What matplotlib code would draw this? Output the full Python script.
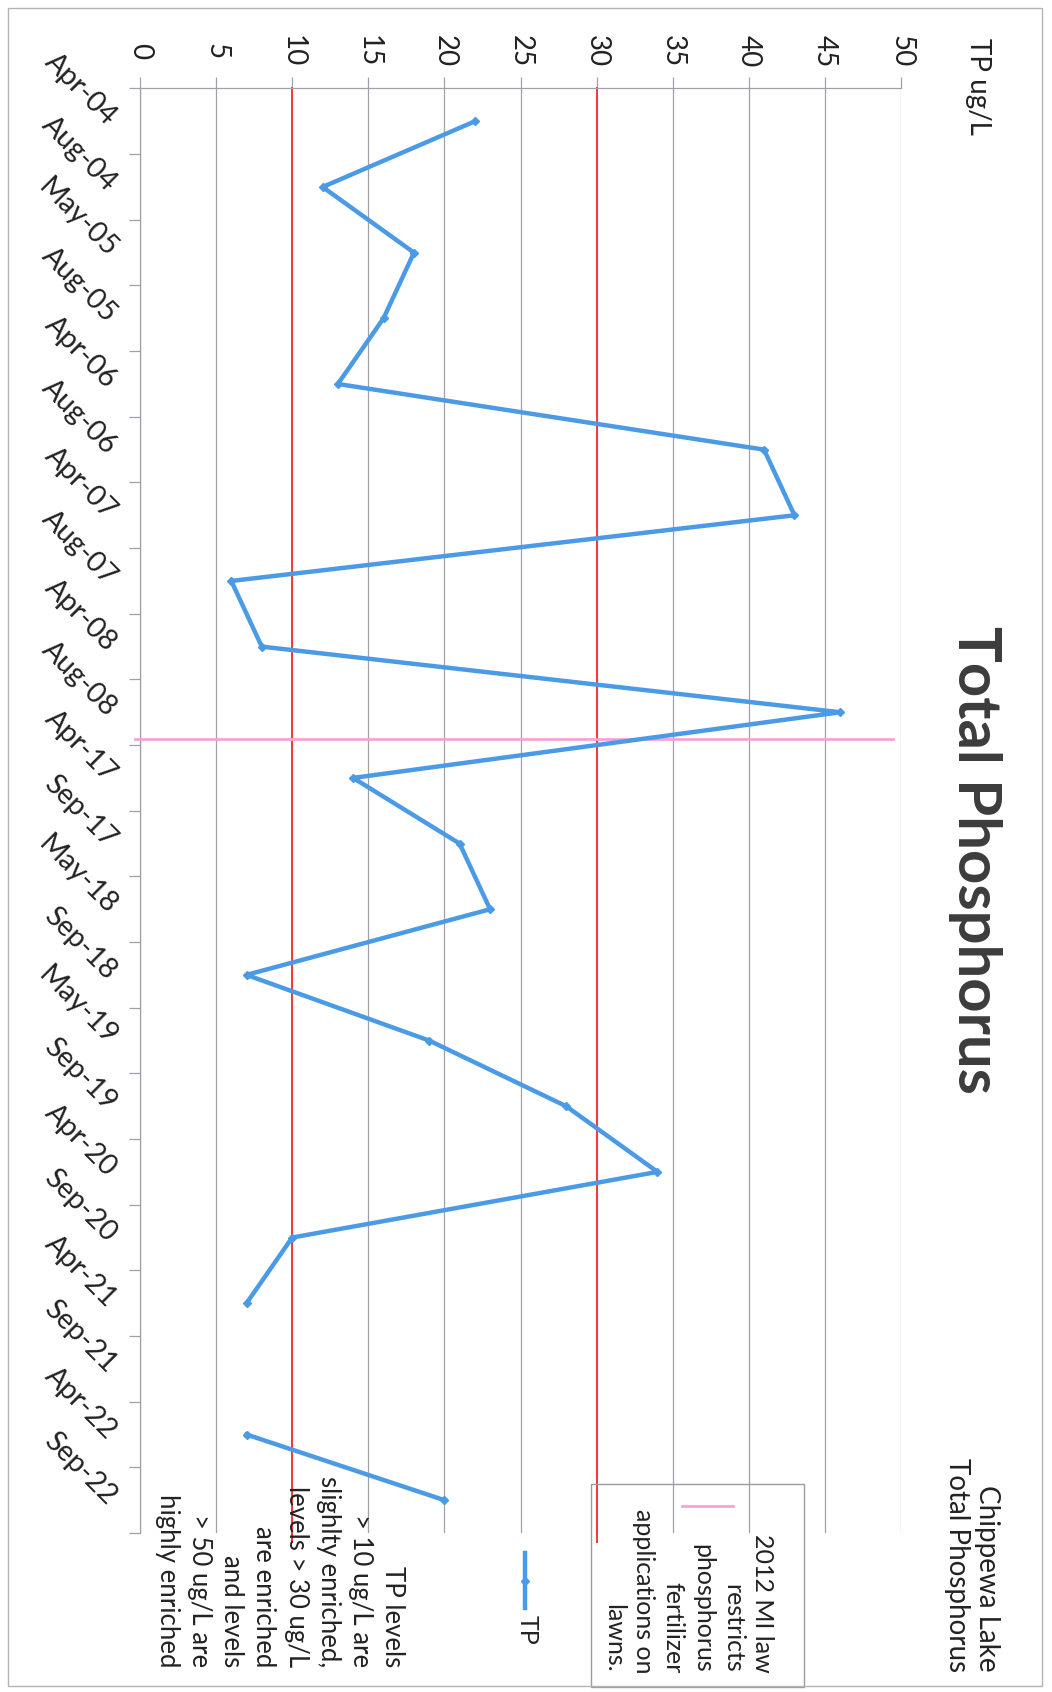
import numpy as np
import matplotlib
matplotlib.use('Agg')
import matplotlib.pyplot as plt
from matplotlib.patches import Rectangle
from matplotlib.lines import Line2D

plt.rcParams['font.family'] = ['Lato', 'DejaVu Sans']

# sampling dates and total phosphorus (ug/L), Sep-21 not sampled
dates = ['Apr-04', 'Aug-04', 'May-05', 'Aug-05', 'Apr-06', 'Aug-06', 'Apr-07', 'Aug-07',
         'Apr-08', 'Aug-08', 'Apr-17', 'Sep-17', 'May-18', 'Sep-18', 'May-19', 'Sep-19',
         'Apr-20', 'Sep-20', 'Apr-21', 'Sep-21', 'Apr-22', 'Sep-22']
tp = [22, 12, 18, 16, 13, 41, 43, 6, 8, 46, 14, 21, 23, 7, 19, 28, 34, 10, 7, np.nan, 7, 20]
value_ticks = [0, 5, 10, 15, 20, 25, 30, 35, 40, 45, 50]
thresholds = [10, 30]
law_2012 = 9.4   # between Aug-08 and Apr-17

W, H = 1052, 1692
fig = plt.figure(figsize=(W / 100, H / 100), dpi=100)

def fx(px):
    return px / W

def fy(py):
    return 1 - py / H

# page is turned on its side: values run left->right, dates run top->bottom
top, bottom, left, right = 88.5, 1533, 140, 901
ax = fig.add_axes([fx(left), fy(bottom), fx(right - left), (bottom - top) / H])

pos = np.arange(len(dates))
grid_c = '#a0a0ac'

for v in value_ticks:
    ax.axvline(v, color=grid_c, lw=0.9, zorder=1)
for v in thresholds:
    ax.axvline(v, ymin=-0.006, ymax=1, color='#ef3b3b', lw=1.4, zorder=2, clip_on=False)
ax.plot([-0.3, 49.5], [law_2012, law_2012], color='#f5a3d6', lw=2, zorder=3, clip_on=False)

ax.plot(tp, pos, color='#4b9ae6', lw=3.2, marker='D', ms=4.5, zorder=4)

ax.set_xlim(0, 50)
ax.set_ylim(len(dates) - 0.5, -0.5)

ax.xaxis.tick_top()
ax.set_xticks(value_ticks)
ax.set_xticklabels([str(v) for v in value_ticks], rotation=-90, va='center')
ax.tick_params(axis='x', length=8, width=0.9, color=grid_c, labelsize=20,
               labelcolor='#222222', pad=19)

ax.set_yticks(np.arange(-0.5, len(dates), 1.0))
ax.set_yticklabels([])
ax.set_yticks(pos, minor=True)
ax.set_yticklabels(dates, minor=True, rotation=-45, ha='right', va='center',
                   rotation_mode='anchor')
ax.tick_params(axis='y', which='major', length=8, width=0.9, color=grid_c)
ax.tick_params(axis='y', which='minor', length=0, labelsize=20.5, labelcolor='#222222',
               pad=20)

for s in ['right', 'bottom']:
    ax.spines[s].set_visible(False)
for s in ['top', 'left']:
    ax.spines[s].set_color(grid_c)
    ax.spines[s].set_linewidth(0.9)

# titles
fig.text(fx(975), fy(860), 'Total Phosphorus', rotation=-90, ha='center', va='center',
         fontsize=43, fontweight='bold', color='#3c3c3c')
fig.text(fx(978), fy(38), 'TP ug/L', rotation=-90, ha='center', va='top',
         fontsize=20, color='#222222')
fig.text(fx(972), fy(1672), 'Chippewa Lake\nTotal Phosphorus', rotation=-90,
         ha='center', va='bottom', multialignment='right', linespacing=1.15,
         fontsize=20, color='#222222')

# legend pieces
fig.add_artist(Rectangle((fx(591), fy(1687)), fx(804 - 591), (1687 - 1484) / H,
                         transform=fig.transFigure, fill=False, edgecolor='#9a9aa6', lw=1))
fig.add_artist(Line2D([fx(682), fx(733)], [fy(1506), fy(1506)], color='#f5a3d6', lw=2))
fig.text(fx(688), fy(1673),
         '2012 MI law\nrestricts\nphosphorus\nfertilizer\napplications on\nlawns.',
         rotation=-90, ha='center', va='bottom', multialignment='right',
         linespacing=1.35, fontsize=18, color='#222222')

fig.add_artist(Line2D([fx(525), fx(525)], [fy(1553), fy(1608)], color='#4b9ae6', lw=3.2))
fig.add_artist(Line2D([fx(525)], [fy(1581)], color='#4b9ae6', marker='D', ms=4.5))
fig.text(fx(527), fy(1615), 'TP', rotation=-90, ha='center', va='top',
         fontsize=18, color='#222222')

fig.text(fx(280), fy(1667),
         'TP levels\n> 10 ug/L are\nslighlty enriched,\nlevels > 30 ug/L\nare enriched\n'
         'and levels\n> 50 ug/L are\nhighly enriched',
         rotation=-90, ha='center', va='bottom', multialignment='right',
         linespacing=1.36, fontsize=18.5, color='#222222')

# chart border
fig.add_artist(Rectangle((fx(8), fy(1686)), fx(1042 - 8), (1686 - 8) / H,
                         transform=fig.transFigure, fill=False, edgecolor='#b4b4b4', lw=1))

fig.savefig('out.png', dpi=100, facecolor='white')
